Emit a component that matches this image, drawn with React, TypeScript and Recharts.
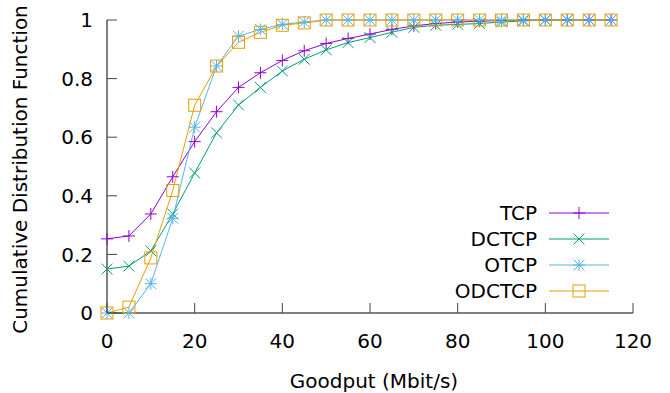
import React from 'react';
import { LineChart, Line, XAxis, YAxis } from 'recharts';

const goodput = [0, 5, 10, 15, 20, 25, 30, 35, 40, 45, 50, 55, 60, 65, 70, 75, 80, 85, 90, 95, 100, 105, 110, 115];
const tcp = [0.253, 0.263, 0.338, 0.465, 0.585, 0.687, 0.77, 0.82, 0.862, 0.895, 0.92, 0.937, 0.952, 0.968, 0.98, 0.988, 0.993, 0.996, 0.998, 1, 1, 1, 1, 1];
const dctcp = [0.15, 0.16, 0.212, 0.338, 0.478, 0.615, 0.71, 0.77, 0.826, 0.866, 0.898, 0.923, 0.94, 0.958, 0.975, 0.982, 0.985, 0.988, 0.993, 0.997, 1, 1, 1, 1];
const otcp = [0, 0, 0.1, 0.323, 0.634, 0.843, 0.945, 0.968, 0.985, 0.993, 1, 1, 1, 1, 1, 1, 1, 1, 1, 1, 1, 1, 1, 1];
const odctcp = [0, 0.02, 0.188, 0.418, 0.709, 0.843, 0.924, 0.958, 0.982, 0.99, 1, 1, 1, 1, 1, 1, 1, 1, 1, 1, 1, 1, 1, 1];

const xTicks = [0, 20, 40, 60, 80, 100, 120];
const xTicksInner = [20, 40, 60, 80, 100];
const yTicks = [0, 0.2, 0.4, 0.6, 0.8, 1];
const yTicksInner = [0.2, 0.4, 0.6, 0.8];
const seriesNames = ['TCP', 'DCTCP', 'OTCP', 'ODCTCP'];
const seriesKeys = ['tcp', 'dctcp', 'otcp', 'odctcp'];
const seriesColors = ['#9400d3', '#009e73', '#56b4e9', '#e69f00'];
const seriesMarkers = ['plus', 'cross', 'star', 'square'];
const xLabel = 'Goodput (Mbit/s)';
const yLabel = 'Cumulative Distribution Function';

const data = goodput.map((g, i) => ({
  g,
  tcp: tcp[i],
  dctcp: dctcp[i],
  otcp: otcp[i],
  odctcp: odctcp[i],
}));

const FONT = 'DejaVu Sans';
const FS = 20;
const TICK_COLOR = '#444';

function Marker({ kind, cx, cy, color, r = 6 }: { kind: string; cx: number; cy: number; color: string; r?: number }) {
  const d = r * 0.9;
  const plus = (
    <>
      <line x1={cx - r} y1={cy} x2={cx + r} y2={cy} />
      <line x1={cx} y1={cy - r} x2={cx} y2={cy + r} />
    </>
  );
  const cross = (
    <>
      <line x1={cx - d} y1={cy - d} x2={cx + d} y2={cy + d} />
      <line x1={cx - d} y1={cy + d} x2={cx + d} y2={cy - d} />
    </>
  );
  return (
    <g stroke={color} strokeWidth={1} fill="none">
      {kind === 'plus' && plus}
      {kind === 'cross' && cross}
      {kind === 'star' && (
        <>
          {plus}
          {cross}
        </>
      )}
      {kind === 'square' && <rect x={cx - r} y={cy - r} width={2 * r} height={2 * r} />}
    </g>
  );
}

const makeDot = (kind: string, color: string) => (props: any) => {
  const { cx, cy, index } = props;
  if (cx == null || cy == null) return <g key={`d-${index}`} />;
  return (
    <g key={`d-${kind}-${index}`}>
      <Marker kind={kind} cx={cx} cy={cy} color={color} />
    </g>
  );
};

const BottomTick = (props: any) => {
  const { x, y, payload } = props;
  return (
    <g>
      <line x1={x} y1={y} x2={x} y2={y - 10} stroke={TICK_COLOR} />
      <text x={x} y={y + 35} textAnchor="middle" fontFamily={FONT} fontSize={FS} fill="#000">
        {payload.value}
      </text>
    </g>
  );
};

const LeftTick = (props: any) => {
  const { x, y, payload } = props;
  return (
    <g>
      <line x1={x} y1={y} x2={x + 10} y2={y} stroke={TICK_COLOR} />
      <text x={x - 14} y={y} dy="0.36em" textAnchor="end" fontFamily={FONT} fontSize={FS} fill="#000">
        {String(payload.value)}
      </text>
    </g>
  );
};

const TopTick = (props: any) => {
  const { x, y } = props;
  return <line x1={x} y1={y} x2={x} y2={y + 10} stroke={TICK_COLOR} />;
};

const RightTick = (props: any) => {
  const { x, y } = props;
  return <line x1={x} y1={y} x2={x - 10} y2={y} stroke={TICK_COLOR} />;
};

const XTitle = (props: any) => {
  const vb = props.viewBox;
  return (
    <text x={vb.x + vb.width / 2 + 4} y={vb.y + 75} textAnchor="middle" fontFamily={FONT} fontSize={FS} fill="#000">
      {xLabel}
    </text>
  );
};

const YTitle = (props: any) => {
  const vb = props.viewBox;
  const x = vb.x + 27;
  const y = vb.y + vb.height / 2 + 3;
  return (
    <text x={x} y={y} transform={`rotate(-90 ${x} ${y})`} textAnchor="middle" fontFamily={FONT} fontSize={FS} fill="#000">
      {yLabel}
    </text>
  );
};

const LegendOverlay = () => {
  const rows = [213, 239, 265, 291];
  return (
    <svg width={670} height={393} style={{ position: 'absolute', left: 0, top: 0, pointerEvents: 'none' }}>
      {seriesNames.map((n, i) => (
        <g key={n}>
          <text x={537} y={rows[i]} dy="0.36em" textAnchor="end" fontFamily={FONT} fontSize={FS} fill="#000">
            {n}
          </text>
          <line x1={549} y1={rows[i]} x2={609} y2={rows[i]} stroke={seriesColors[i]} strokeWidth={1} />
          <Marker kind={seriesMarkers[i]} cx={579} cy={rows[i]} color={seriesColors[i]} />
        </g>
      ))}
    </svg>
  );
};

export default function App() {
  return (
    <div style={{ position: 'absolute', left: 0, top: 0, width: 670, height: 393, background: '#fff' }}>
      <LineChart width={670} height={393} data={data} margin={{ top: 20, right: 37, bottom: 0, left: 0 }}>
        <XAxis
          dataKey="g"
          type="number"
          domain={[0, 120]}
          ticks={xTicks}
          interval={0}
          height={80}
          tickSize={0}
          tickMargin={0}
          tick={<BottomTick />}
          axisLine={{ stroke: '#000' }}
          label={<XTitle />}
        />
        <XAxis
          xAxisId="top"
          orientation="top"
          dataKey="g"
          type="number"
          domain={[0, 120]}
          ticks={xTicksInner}
          interval={0}
          height={0}
          tickSize={0}
          tickMargin={0}
          tick={<TopTick />}
          axisLine={{ stroke: '#000' }}
        />
        <YAxis
          type="number"
          domain={[0, 1]}
          ticks={yTicks}
          interval={0}
          width={107}
          tickSize={0}
          tickMargin={0}
          tick={<LeftTick />}
          axisLine={{ stroke: '#000' }}
          label={<YTitle />}
        />
        <YAxis
          yAxisId="right"
          orientation="right"
          type="number"
          domain={[0, 1]}
          ticks={yTicksInner}
          interval={0}
          width={0}
          tickSize={0}
          tickMargin={0}
          tick={<RightTick />}
          axisLine={{ stroke: '#000' }}
        />
        {seriesKeys.map((k, i) => (
          <Line
            key={k}
            dataKey={k}
            type="linear"
            stroke={seriesColors[i]}
            strokeWidth={1}
            dot={makeDot(seriesMarkers[i], seriesColors[i])}
            activeDot={false}
            isAnimationActive={false}
          />
        ))}
      </LineChart>
      <LegendOverlay />
    </div>
  );
}
